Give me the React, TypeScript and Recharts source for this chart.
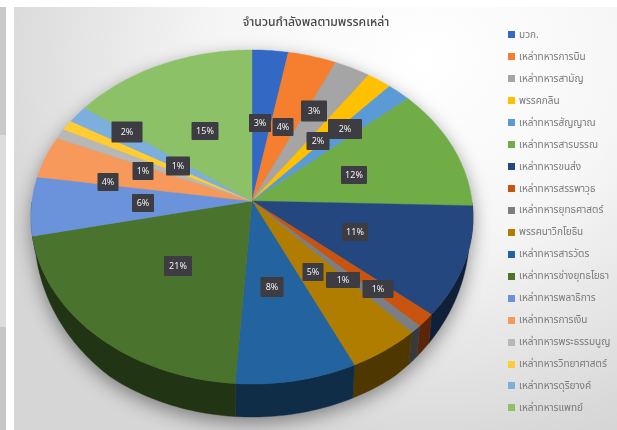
import { PieChart, Pie, Legend } from 'recharts';

const TITLE = 'จำนวนกำลังพลตามพรรคเหล่า';
const FONT = '"Noto Sans", "Noto Sans Thai", "Liberation Sans", sans-serif';

const branches = [
  'มวก.', 'เหล่าทหารการบิน', 'เหล่าทหารสามัญ', 'พรรคกลิน', 'เหล่าทหารสัญญาณ', 'เหล่าทหารสารบรรณ',
  'เหล่าทหารขนส่ง', 'เหล่าทหารสรรพาวุธ', 'เหล่าทหารยุทธศาสตร์', 'พรรคนาวิกโยธิน', 'เหล่าทหารสารวัตร',
  'เหล่าทหารช่างยุทธโยธา', 'เหล่าทหารพลาธิการ', 'เหล่าทหารการเงิน', 'เหล่าทหารพระธรรมนูญ',
  'เหล่าทหารวิทยาศาสตร์', 'เหล่าทหารดุริยางค์', 'เหล่าทหารแพทย์',
];
const shares = [2.9, 3.9, 2.9, 2.0, 1.9, 11.9, 10.7, 1.3, 0.8, 4.8, 8.1, 20.6, 5.7, 4.1, 1.0, 1.0, 1.7, 14.9];
const colors = [
  '#3368c4', '#f57f2e', '#a5a5a5', '#ffc000', '#5b9bd5', '#70ad47', '#25477f', '#c8540f', '#7a7f86',
  '#b07d00', '#23639f', '#4a732d', '#6a93dc', '#f7995a', '#b7b7b7', '#ffcd33', '#7cafdd', '#8cc168',
];

// label boxes were placed by hand in the original: centre x, centre y, width, height
const labelBoxes = [
  [260, 123, 22, 18], [283, 127, 21, 18], [314, 111, 26, 21], [318, 141, 23, 18], [345, 129, 34, 20],
  [354, 175, 26, 18], [355, 232, 26, 18], [378, 289, 31, 18], [343, 280, 34, 16], [313, 272, 21, 18],
  [272, 287, 23, 20], [178, 266, 28, 20], [143, 203, 22, 18], [108, 182, 21, 18], [143, 171, 21, 18],
  [178, 166, 24, 19], [127, 132, 31, 21], [205, 131, 27, 18],
];

const data = branches.map((name, i) => ({ name, value: shares[i], fill: colors[i] }));

const CX = 252;
const CY = 201;
const RX = 220;
const RY = 165.5;
const TILT = 0.0958; // perspective, the near edge is bigger than the far edge
const DEPTH = 33;

// angle on the flat pie -> point on the tilted disc
function project(deg: number) {
  const rad = (deg * Math.PI) / 180;
  const u = Math.cos(rad);
  const v = -Math.sin(rad);
  const w = 1 - TILT * v;
  return { x: CX + (RX * u) / w, y: CY + (RY * v) / w, v };
}

function rim(start: number, end: number) {
  const steps = Math.max(2, Math.ceil(Math.abs(end - start)));
  const pts = [];
  for (let i = 0; i <= steps; i++) pts.push(project(start + ((end - start) * i) / steps));
  return pts;
}

function darken(hex: string, k: number) {
  const n = parseInt(hex.slice(1), 16);
  const c = [(n >> 16) & 255, (n >> 8) & 255, n & 255].map(x => Math.round(x * k));
  return `rgb(${c.join(',')})`;
}

function TopSlice(props: any) {
  const pts = rim(props.startAngle, props.endAngle);
  const d = `M${CX},${CY} ` + pts.map(p => `L${p.x.toFixed(1)},${p.y.toFixed(1)}`).join(' ') + ' Z';
  return <path d={d} fill={props.fill} stroke={props.fill} strokeWidth={0.4} />;
}

function WallSlice(props: any) {
  const pts = rim(props.startAngle, props.endAngle).filter(p => p.v > 0);
  if (pts.length < 2) return null;
  const lower = pts.map(p => {
    const t = DEPTH * (0.35 + 0.65 * Math.min(1, p.v * 1.25));
    return { x: CX + (p.x - CX) * 0.985, y: p.y + t };
  });
  const all = [...pts, ...lower.reverse()];
  const d = 'M' + all.map(p => `${p.x.toFixed(1)},${p.y.toFixed(1)}`).join(' L') + ' Z';
  const c = darken(props.fill, 0.45);
  return <path d={d} fill={c} stroke={c} strokeWidth={0.4} />;
}

function PercentLabel(props: any) {
  const [x, y, w, h] = labelBoxes[props.index];
  return (
    <g>
      <rect x={x - w / 2} y={y - h / 2} width={w} height={h} rx={1} fill="#3c3c42" />
      <text x={x} y={y + 3.2} textAnchor="middle" fontSize={9} fontFamily={FONT} fill="#f2f2f2">
        {Math.round(props.percent * 100)}%
      </text>
    </g>
  );
}

function LegendList({ payload }: any) {
  const seen = new Set();
  const items = (payload || []).filter((item: any) => {
    if (item.type === 'none' || seen.has(item.value)) return false;
    seen.add(item.value);
    return true;
  });
  return (
    <div>
      {branches.map(name => items.find((item: any) => item.value === name)).filter(Boolean).map((item: any) => (
        <div key={item.value} style={{ height: 21.94, display: 'flex', alignItems: 'center' }}>
          <span style={{ width: 7, height: 7, background: item.color, marginRight: 4, flex: 'none' }} />
          <span style={{ fontSize: 10, color: '#7a7a7a', fontFamily: FONT, whiteSpace: 'nowrap' }}>{item.value}</span>
        </div>
      ))}
    </div>
  );
}

export default function App() {
  return (
    <div style={{ position: 'relative', width: 617, height: 430, background: '#fff', overflow: 'hidden', filter: 'blur(0.45px)' }}>
      <style>{`
        body { margin: 0; }
        .recharts-surface { filter: drop-shadow(0 6px 9px rgba(0,0,0,0.4)); }
      `}</style>
      <div style={{ position: 'absolute', left: 0, top: 7, width: 6, height: 423, background: 'linear-gradient(#c9c9c9 0 128px, #dcdcdc 128px 320px, #c6c6c6 320px)' }} />
      <div
        style={{
          position: 'absolute', left: 14, top: 7, width: 603, height: 423,
          background: 'radial-gradient(ellipse 75% 95% at 68% 12%, #ffffff 0%, #f6f6f6 45%, #dfdfdf 85%, #d6d6d6 100%)',
        }}
      />
      <div style={{ position: 'absolute', left: 196, top: 13, width: 240, textAlign: 'center', fontSize: 12.2, fontWeight: 500, color: '#474747', fontFamily: FONT }}>
        {TITLE}
      </div>
      <div style={{ position: 'absolute', left: 0, top: 0 }}>
        <PieChart width={617} height={430} margin={{ top: 0, right: 0, bottom: 0, left: 0 }}>
          <Pie
            data={data}
            dataKey="value"
            nameKey="name"
            cx={CX}
            cy={CY}
            outerRadius={RX}
            startAngle={90}
            endAngle={-270}
            paddingAngle={0}
            stroke="none"
            legendType="none"
            shape={WallSlice}
            isAnimationActive={false}
          />
          <Pie
            data={data}
            dataKey="value"
            nameKey="name"
            cx={CX}
            cy={CY}
            outerRadius={RX}
            startAngle={90}
            endAngle={-270}
            paddingAngle={0}
            stroke="none"
            shape={TopSlice}
            label={PercentLabel}
            labelLine={false}
            isAnimationActive={false}
          />
          <Legend
            layout="vertical"
            itemSorter={null}
            content={LegendList}
            wrapperStyle={{ position: 'absolute', left: 508, top: 24, width: 109, bottom: 'auto' }}
          />
        </PieChart>
      </div>
    </div>
  );
}
